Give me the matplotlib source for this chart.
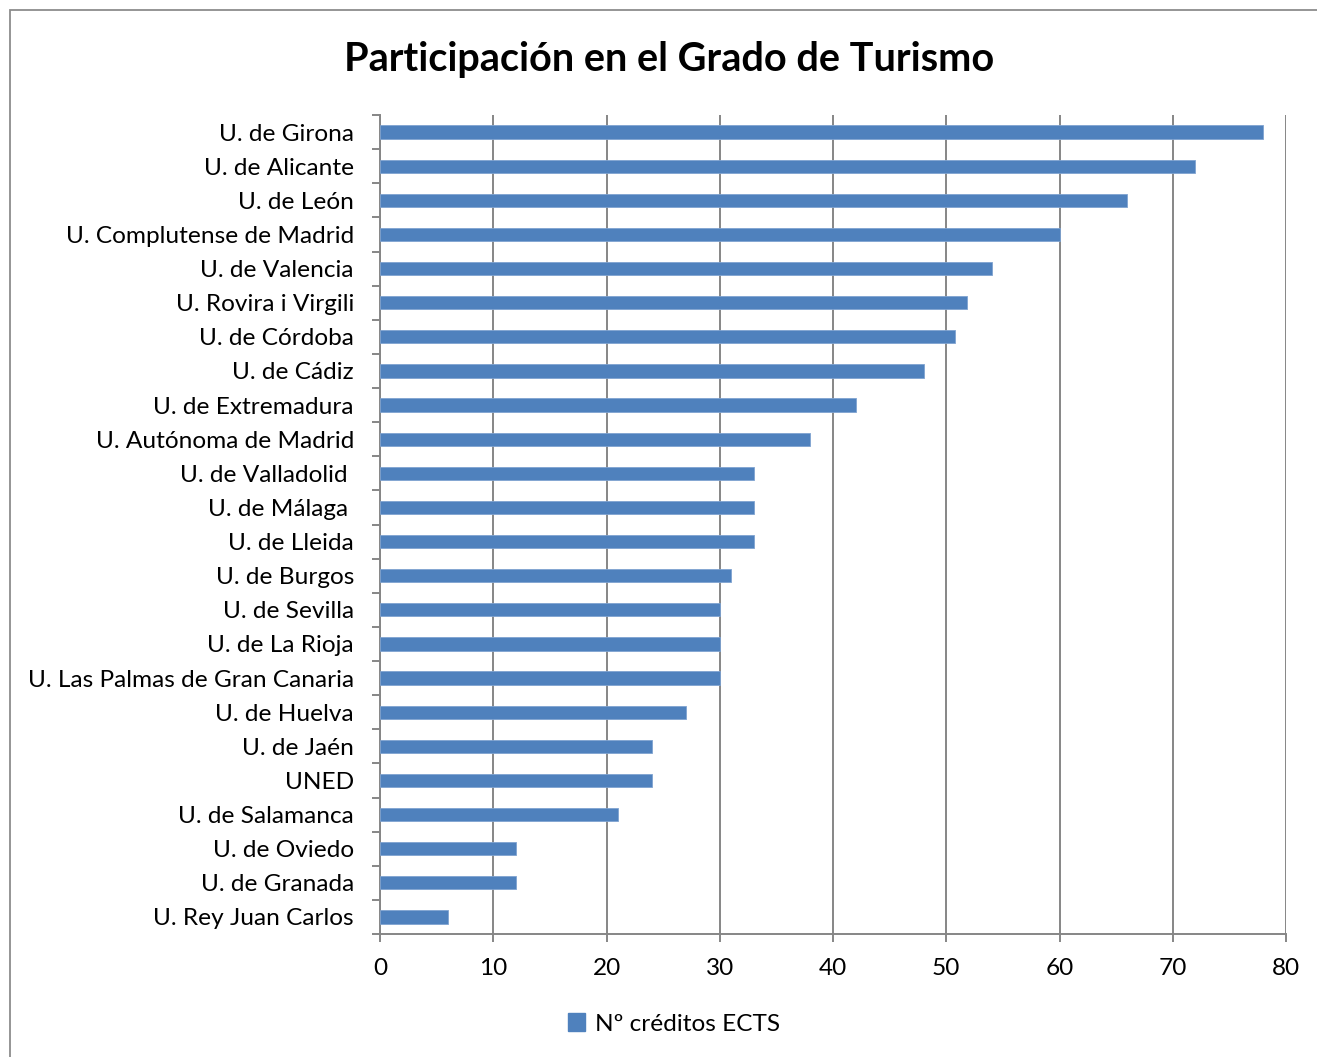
import matplotlib
matplotlib.use("Agg")
import matplotlib.pyplot as plt
from matplotlib.patches import Rectangle

universidades = [
    "U. de Girona", "U. de Alicante", "U. de León", "U. Complutense de Madrid",
    "U. de Valencia", "U. Rovira i Virgili", "U. de Córdoba", "U. de Cádiz",
    "U. de Extremadura", "U. Autónoma de Madrid", "U. de Valladolid ", "U. de Málaga ",
    "U. de Lleida", "U. de Burgos", "U. de Sevilla", "U. de La Rioja",
    "U. Las Palmas de Gran Canaria", "U. de Huelva", "U. de Jaén", "UNED",
    "U. de Salamanca", "U. de Oviedo", "U. de Granada", "U. Rey Juan Carlos",
]
creditos = [78, 72, 66, 60, 54, 51.85, 50.75, 48, 42, 38, 33, 33,
            33, 31, 30, 30, 30, 27, 24, 24, 21, 12, 12, 6]
x_ticks = [0, 10, 20, 30, 40, 50, 60, 70, 80]
titulo = "Participación en el Grado de Turismo"
serie = "Nº créditos ECTS"

FONT = ["Lato", "DejaVu Sans"]
plt.rcParams["font.family"] = FONT

W, H = 1317, 1057
fig = plt.figure(figsize=(W / 100, H / 100), dpi=100)
fig.patch.set_facecolor("white")

# outer chart border (cropped at right/bottom)
fig.patches.append(Rectangle((10 / W, -0.05), 1.2, 1 - 10 / H + 0.05,
                             transform=fig.transFigure, fill=False,
                             edgecolor="#8c8c8c", linewidth=1.3))

left, right, top, bottom = 380, 1286, 115, 934
ax = fig.add_axes([left / W, 1 - bottom / H, (right - left) / W, (bottom - top) / H])

n = len(universidades)
ypos = list(range(n))
ax.barh(ypos, creditos, height=0.39, color="#4F81BD", edgecolor="#7FA3D0", linewidth=0.6, zorder=3)
ax.set_ylim(n - 0.5, -0.5)
ax.set_xlim(0, 80)

ax.set_yticks(ypos)
ax.set_yticklabels(universidades, fontsize=17.6, color="black")
ax.set_yticks([i + 0.5 for i in range(-1, n)], minor=True)
ax.tick_params(axis="y", which="major", length=0, pad=18.8)
ax.tick_params(axis="y", which="minor", length=6, width=1.4, color="#868686", direction="out")

ax.set_xticks(x_ticks)
ax.set_xticklabels([str(v) for v in x_ticks], fontsize=17.6)
ax.tick_params(axis="x", length=6, width=1.4, color="#868686", direction="out", pad=11)

ax.grid(axis="x", color="#868686", linewidth=1.4, zorder=0)
ax.set_axisbelow(True)
for s in ["top", "right"]:
    ax.spines[s].set_visible(False)
for s in ["left", "bottom"]:
    ax.spines[s].set_color("#868686")
    ax.spines[s].set_linewidth(1.4)

fig.text(669 / W, 1 - 60 / H, titulo, ha="center", va="center",
         fontsize=28.5, fontweight="bold")

# legend
leg = fig.legend([Rectangle((0, 0), 1, 1, color="#4F81BD")], [serie],
                 loc="center", bbox_to_anchor=(674 / W, 1 - 1024 / H),
                 frameon=False, fontsize=17.6, handlelength=0.7, handleheight=0.7,
                 handletextpad=0.4)

fig.savefig("out.png", dpi=100, facecolor="white")
